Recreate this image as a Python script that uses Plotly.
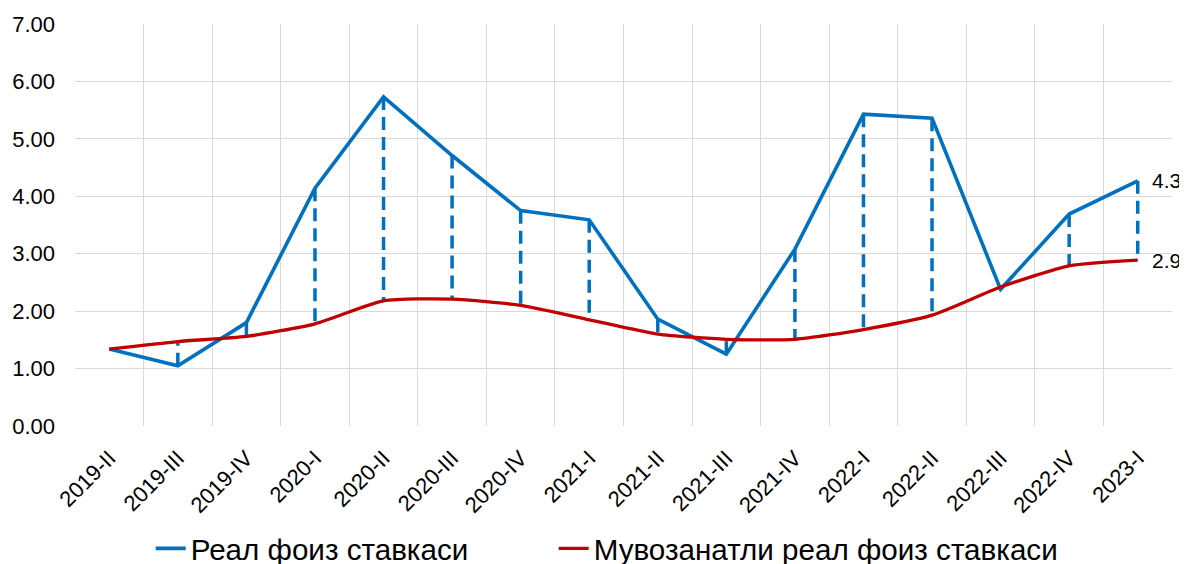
import plotly.graph_objects as go

categories = ["2019-II", "2019-III", "2019-IV", "2020-I", "2020-II", "2020-III", "2020-IV",
              "2021-I", "2021-II", "2021-III", "2021-IV", "2022-I", "2022-II", "2022-III",
              "2022-IV", "2023-I"]
real_rate = [1.34, 1.05, 1.80, 4.14, 5.73, 4.71, 3.75, 3.59, 1.86, 1.25, 3.08, 5.43, 5.36, 2.38, 3.69, 4.27]
neutral_rate = [1.34, 1.47, 1.56, 1.78, 2.18, 2.21, 2.10, 1.85, 1.60, 1.51, 1.51, 1.68, 1.93, 2.42, 2.79, 2.89]
y_ticks = [0, 1, 2, 3, 4, 5, 6, 7]

BLUE = "#0070C0"
RED = "#C00000"
FONT = "Liberation Sans, Arial, sans-serif"

# high-low connector segments
hx, hy = [], []
for c, a, b in zip(categories, real_rate, neutral_rate):
    hx += [c, c, None]
    hy += [a, b, None]

fig = go.Figure()
fig.add_trace(go.Scatter(x=hx, y=hy, mode="lines", showlegend=False, hoverinfo="skip",
                         line=dict(color=BLUE, width=3.5, dash="13px,7px")))
fig.add_trace(go.Scatter(x=categories, y=real_rate, mode="lines", name="Реал фоиз ставкаси",
                         legendwidth=358,
                         line=dict(color=BLUE, width=3.6)))
fig.add_trace(go.Scatter(x=categories, y=neutral_rate, mode="lines",
                         name="Мувозанатли реал фоиз ставкаси", legendwidth=490,
                         line=dict(color=RED, width=3.3, shape="spline", smoothing=0.6)))

fig.add_annotation(x=categories[-1], y=real_rate[-1], text=f"{real_rate[-1]:.1f}",
                   showarrow=False, xanchor="left", xshift=12,
                   font=dict(size=21, color="black", family=FONT))
fig.add_annotation(x=categories[-1], y=neutral_rate[-1], text=f"{neutral_rate[-1]:.1f}",
                   showarrow=False, xanchor="left", xshift=12,
                   font=dict(size=21, color="black", family=FONT))

# page body adds an 8px offset, so the figure is 8px smaller and margins compensate
fig.update_layout(
    width=1179, height=556,
    margin=dict(l=67, r=15, t=16, b=138, autoexpand=False),
    plot_bgcolor="white", paper_bgcolor="white",
    font=dict(family=FONT, color="black"),
    showlegend=True,
    legend=dict(orientation="h", x=0.069, xanchor="left", y=-0.305, yanchor="middle",
                font=dict(size=29.6, family=FONT, color="black"), itemwidth=30),
    xaxis=dict(type="category", range=[-0.5, 15.5], tickson="boundaries",
               showgrid=True, gridcolor="#D9D9D9", gridwidth=1.3, automargin=False,
               tickangle=-45, tickfont=dict(size=22, family=FONT, color="black"),
               ticks="", showline=False, zeroline=False, ticklabelstandoff=14),
    yaxis=dict(range=[0, 7], tickvals=y_ticks, tickformat=".2f", automargin=False,
               showgrid=True, gridcolor="#D9D9D9", gridwidth=1.3,
               tickfont=dict(size=22, family=FONT, color="black"),
               zeroline=False, showline=False, ticks="", ticklabelstandoff=19),
)

fig.write_html("out.html")
